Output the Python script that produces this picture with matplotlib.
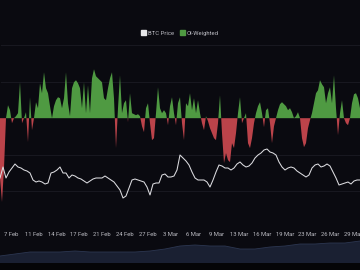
import numpy as np
import matplotlib
matplotlib.use("Agg")
import matplotlib.pyplot as plt
import matplotlib.dates as mdates
from matplotlib.patches import Rectangle
from datetime import datetime, timedelta

# ---------------- data ----------------
start = datetime(2025, 2, 6, 2, 0)
end = datetime(2025, 3, 30, 16, 0)

# OI-weighted oscillator (positive = green, negative = red)
oi_weighted = [
    -60, -84, -50, 0, 13, 8, -5, 0, 2, 5, 36, -5, 0, 6, -24, 21, -12, 0, 16, 10,
    35, 25, 46, 30, 25, 12, 0, 12, 18, 21, 20, 10, 20, 46, 15, 2, 30, 36, 38, 35,
    30, 10, 36, 5, 33, 5, 40, 49, 42, 40, 38, 36, 20, 18, 30, 40, 46, 20, -30, 10,
    43, 5, 15, 18, -4, 25, 5, 4, 3, 4, 2, -8, -14, 10, 15, -5, -22, -20, 5, 31,
    10, 5, 8, 5, -7, 12, 21, 5, -7, 15, 21, -5, -22, 15, 12, 25, 8, 20, 5, 18,
    5, -5, -12, 2, -3, -10, -15, -20, -22, -5, 23, -15, -45, -35, -42, -44, -25, -30, -15, 5,
    21, -5, 0, 5, -25, -30, -20, -5, 5, 12, 16, 5, -9, 8, 10, -5, -25, -8, 0, 8,
    14, 16, 14, 12, 8, 10, 6, 0, 2, 6, 0, -20, -29, -25, -10, -2, 5, 15, 25, 28,
    38, 34, 31, 15, 25, 31, 15, 43, 10, -17, 5, 18, 0, -5, -7, 0, 15, 24, 25, 20,
    10,
]

# BTC price (relative units, axis hidden)
btc_price = [
    22, 33, 22, 28, 32, 36, 33, 32, 30, 29, 27, 20, 18, 19, 18, 16, 17, 27, 28, 30,
    33, 27, 27, 22, 25, 24, 22, 21, 19, 17, 19, 21, 22, 22, 22, 24, 22, 20, 18, 14,
    10, 2, 4, 12, 20, 21, 20, 19, 18, 13, 5, 16, 17, 17, 25, 26, 23, 23, 24, 30,
    45, 42, 39, 35, 28, 22, 20, 20, 20, 18, 13, 20, 28, 35, 34, 32, 32, 30, 32, 36,
    38, 35, 33, 34, 37, 42, 45, 47, 50, 51, 48, 47, 45, 38, 33, 30, 32, 33, 32, 29,
    27, 25, 23, 25, 32, 35, 36, 33, 34, 36, 34, 28, 22, 15, 16, 17, 18, 16, 19, 20,
    20,
]

# navigator series
navigator = [7, 9, 11, 11, 11, 12, 11, 11, 11, 11, 12, 14, 17, 18, 17, 17, 14, 14,
             16, 17, 19, 19, 20, 20, 22]

tick_labels = ["7 Feb", "11 Feb", "14 Feb", "17 Feb", "21 Feb", "24 Feb", "27 Feb",
               "3 Mar", "6 Mar", "9 Mar", "13 Mar", "16 Mar", "19 Mar", "23 Mar",
               "26 Mar", "29 Mar"]
first_tick = datetime(2025, 2, 7, 16, 0)
tick_step_hours = 80

# ---------------- styling ----------------
BG = "#0a0a10"
GREEN = "#4f9a42"
RED = "#bb434a"
GRID = "#1b1b24"
TXT = "#bdbdc4"

W, H = 360, 270
fig = plt.figure(figsize=(W / 100, H / 100), dpi=100, facecolor=BG)

def frac(x0, y0_top, x1, y1_top):
    return [x0 / W, 1 - y1_top / H, (x1 - x0) / W, (y1_top - y0_top) / H]

t0 = mdates.date2num(start)
t1 = mdates.date2num(end)
x_osc = np.linspace(t0, t1, len(oi_weighted))
x_price = np.linspace(t0, t1, len(btc_price))
x_nav = np.linspace(t0, t1, len(navigator))
osc = np.array(oi_weighted, dtype=float)

ax = fig.add_axes(frac(0, 45, 360, 228))
ax.set_facecolor(BG)
ax.fill_between(x_osc, 0, osc, where=osc >= 0, interpolate=True, color=GREEN, lw=0)
ax.fill_between(x_osc, 0, osc, where=osc <= 0, interpolate=True, color=RED, lw=0)
ax.set_ylim(-110, 73.3)
ax.set_xlim(t0, t1)
ax.set_yticks([-73.3, -36.7, 36.7, 73.3])
ax.yaxis.grid(True, color=GRID, lw=0.6)
ax.set_axisbelow(True)
ax.tick_params(axis="y", left=False, labelleft=False)
for s in ax.spines.values():
    s.set_visible(False)

ticks = [mdates.date2num(first_tick + timedelta(hours=tick_step_hours * i))
         for i in range(len(tick_labels))]
ax.set_xticks(ticks)
ax.set_xticklabels(tick_labels, fontsize=4.2, color=TXT, family="Roboto")
ax.tick_params(axis="x", length=0, pad=3)

ax2 = ax.twinx()
ax2.plot(x_price, btc_price, color="#dcdce0", lw=0.75)
ax2.set_ylim(-28, 155)
ax2.set_xlim(t0, t1)
ax2.axis("off")

# navigator
axn = fig.add_axes(frac(0, 237, 360, 263))
axn.set_facecolor(BG)
axn.fill_between(x_nav, 0, navigator, color="#1a2032", lw=0)
axn.plot(x_nav, navigator, color="#2c3650", lw=0.6)
axn.set_xlim(t0, t1)
axn.set_ylim(0, 26)
axn.axis("off")

# bottom strip
axb = fig.add_axes(frac(0, 263, 360, 270))
axb.axis("off")
axb.add_patch(Rectangle((0, 0), 1, 1, transform=axb.transAxes, color="#050507"))

# legend
handles = [Rectangle((0, 0), 1, 1, color="#e8e8ea"), Rectangle((0, 0), 1, 1, color=GREEN)]
leg = fig.legend(handles, ["BTC Price", "OI-Weighted"], loc="center",
                 bbox_to_anchor=(0.5, 1 - 33 / H), ncol=2, frameon=False,
                 handlelength=0.8, handleheight=0.8, handletextpad=0.4,
                 columnspacing=1.0, prop={"family": "Roboto", "size": 4.2})
for t in leg.get_texts():
    t.set_color(TXT)

fig.savefig("out.png", dpi=100, facecolor=BG)
